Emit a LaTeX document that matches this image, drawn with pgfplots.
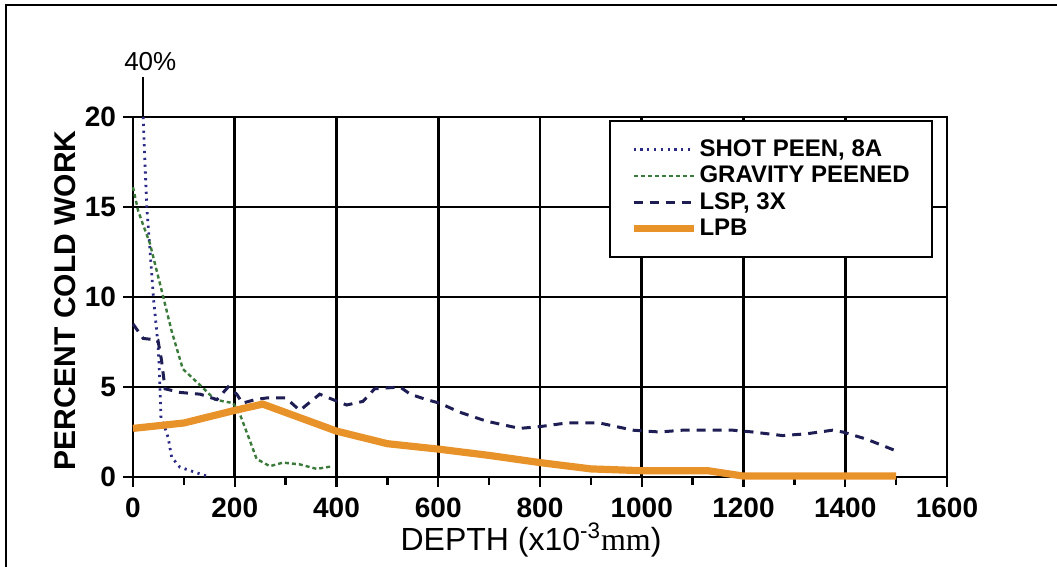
\documentclass[border=0pt]{standalone}
\usepackage{fontspec}
\setmainfont{Liberation Sans}
\newfontfamily\serifmm{Liberation Serif}
\usepackage{pgfplots}
\pgfplotsset{compat=1.18}
\definecolor{spnavy}{HTML}{2B2B85}
\definecolor{lspnavy}{HTML}{1E1E55}
\definecolor{gpgreen}{HTML}{3A7A3A}
\definecolor{lpborange}{HTML}{E8922A}
\begin{document}
\begin{tikzpicture}
\begin{axis}[
  at={(0,0)}, anchor=south west,
  scale only axis, width=407pt, height=180pt,
  xmin=0, xmax=1600, ymin=0, ymax=20,
  xtick={0,200,...,1600}, ytick={0,5,...,20},
  minor x tick num=1,
  xtick pos=left, ytick pos=left,
  grid=major, major grid style={black, line width=1.4pt},
  axis line style={line width=1.4pt},
  tick style={black, line width=1.2pt},
  tick align=outside, major tick length=5pt, minor tick length=4pt,
  clip=false,
  /pgf/number format/assume math mode=true,
  /pgf/number format/1000 sep={},
  ticklabel style={font=\fontsize{14}{16}\selectfont\bfseries},
  xticklabel style={yshift=-2pt},
  xlabel={DEPTH (x10\textsuperscript{-3}{\serifmm mm})},
  ylabel={PERCENT COLD WORK},
  ylabel style={font=\bfseries\fontsize{15}{17}\selectfont, at={(axis description cs:-0.0835,0.49)}, anchor=center},
  xlabel style={font=\fontsize{16}{18}\selectfont, at={(axis description cs:0.489,-0.175)}, anchor=center},
  legend style={at={(axis description cs:0.983,0.992)}, anchor=north east, draw=black, line width=1pt, fill=white,
    font=\bfseries\fontsize{12}{13}\selectfont, inner xsep=10pt, inner ysep=8pt, row sep=1pt, nodes={inner sep=1.2pt}},
  legend cell align=left,
  legend image code/.code={\draw[#1] (0pt,0pt) -- (30pt,0pt);},
]
\addplot[spnavy, line width=1.4pt, dash pattern=on 1.1pt off 2.3pt] coordinates {
(20,20) (27,15) (35,12) (40,10) (47,8) (50,7) (53,5) (55,3.2) (62,2.8) (69,2.2) (76,1.1) (92,0.55) (118,0.3) (145,0.05)
};
\addlegendentry{SHOT PEEN, 8A}
\addplot[gpgreen, line width=1.2pt, dash pattern=on 2pt off 1.5pt] coordinates {
(0,16.1) (10,14.8) (20,14) (33,13) (56,10.4) (76,8.1) (98,6) (132,5.1) (161,4.3) (197,4.1) (210,3.5) (230,2.0) (243,1.0) (269,0.6) (295,0.8) (328,0.7) (361,0.45) (393,0.6)
};
\addlegendentry{GRAVITY PEENED}
\addplot[lspnavy, line width=1.5pt, dash pattern=on 4.5pt off 3.5pt] coordinates {
(0,8.5) (20,7.7) (49,7.6) (56,6.5) (63,4.9) (92,4.7) (132,4.6) (165,4.3) (187,5.0) (204,4.6) (215,4.1) (240,4.3) (265,4.4) (300,4.4) (328,3.7) (367,4.6) (393,4.3) (420,4.0) (452,4.2) (475,4.9) (525,5.0) (545,4.6) (577,4.3) (603,4.1) (642,3.6) (695,3.1) (760,2.7) (800,2.8) (852,3.0) (917,3.0) (950,2.8) (983,2.6) (1035,2.5) (1080,2.6) (1179,2.6) (1218,2.5) (1277,2.3) (1324,2.4) (1375,2.6) (1395,2.5) (1442,2.1) (1500,1.45)
};
\addlegendentry{LSP, 3X}
\addplot[lpborange, line width=3.6pt] coordinates {
(0,2.7) (100,3.0) (200,3.7) (255,4.05) (400,2.55) (500,1.85) (600,1.55) (700,1.2) (800,0.8) (900,0.45) (1000,0.35) (1130,0.35) (1200,0.05) (1500,0.05)
};
\addlegendentry{LPB}
\draw[black, line width=1.2pt] (axis cs:20,20) -- (axis cs:20,22.2);
\node[font=\fontsize{13}{15}\selectfont] at (axis cs:34,23.1) {40\%};
\end{axis}
\draw[line width=1.2pt] (-63.5pt,-45pt) -- (-63.5pt,236pt) -- (462pt,236pt);
\pgfresetboundingbox
\useasboundingbox (-66.5pt,-45pt) rectangle (462pt,238.5pt);
\end{tikzpicture}
\end{document}
